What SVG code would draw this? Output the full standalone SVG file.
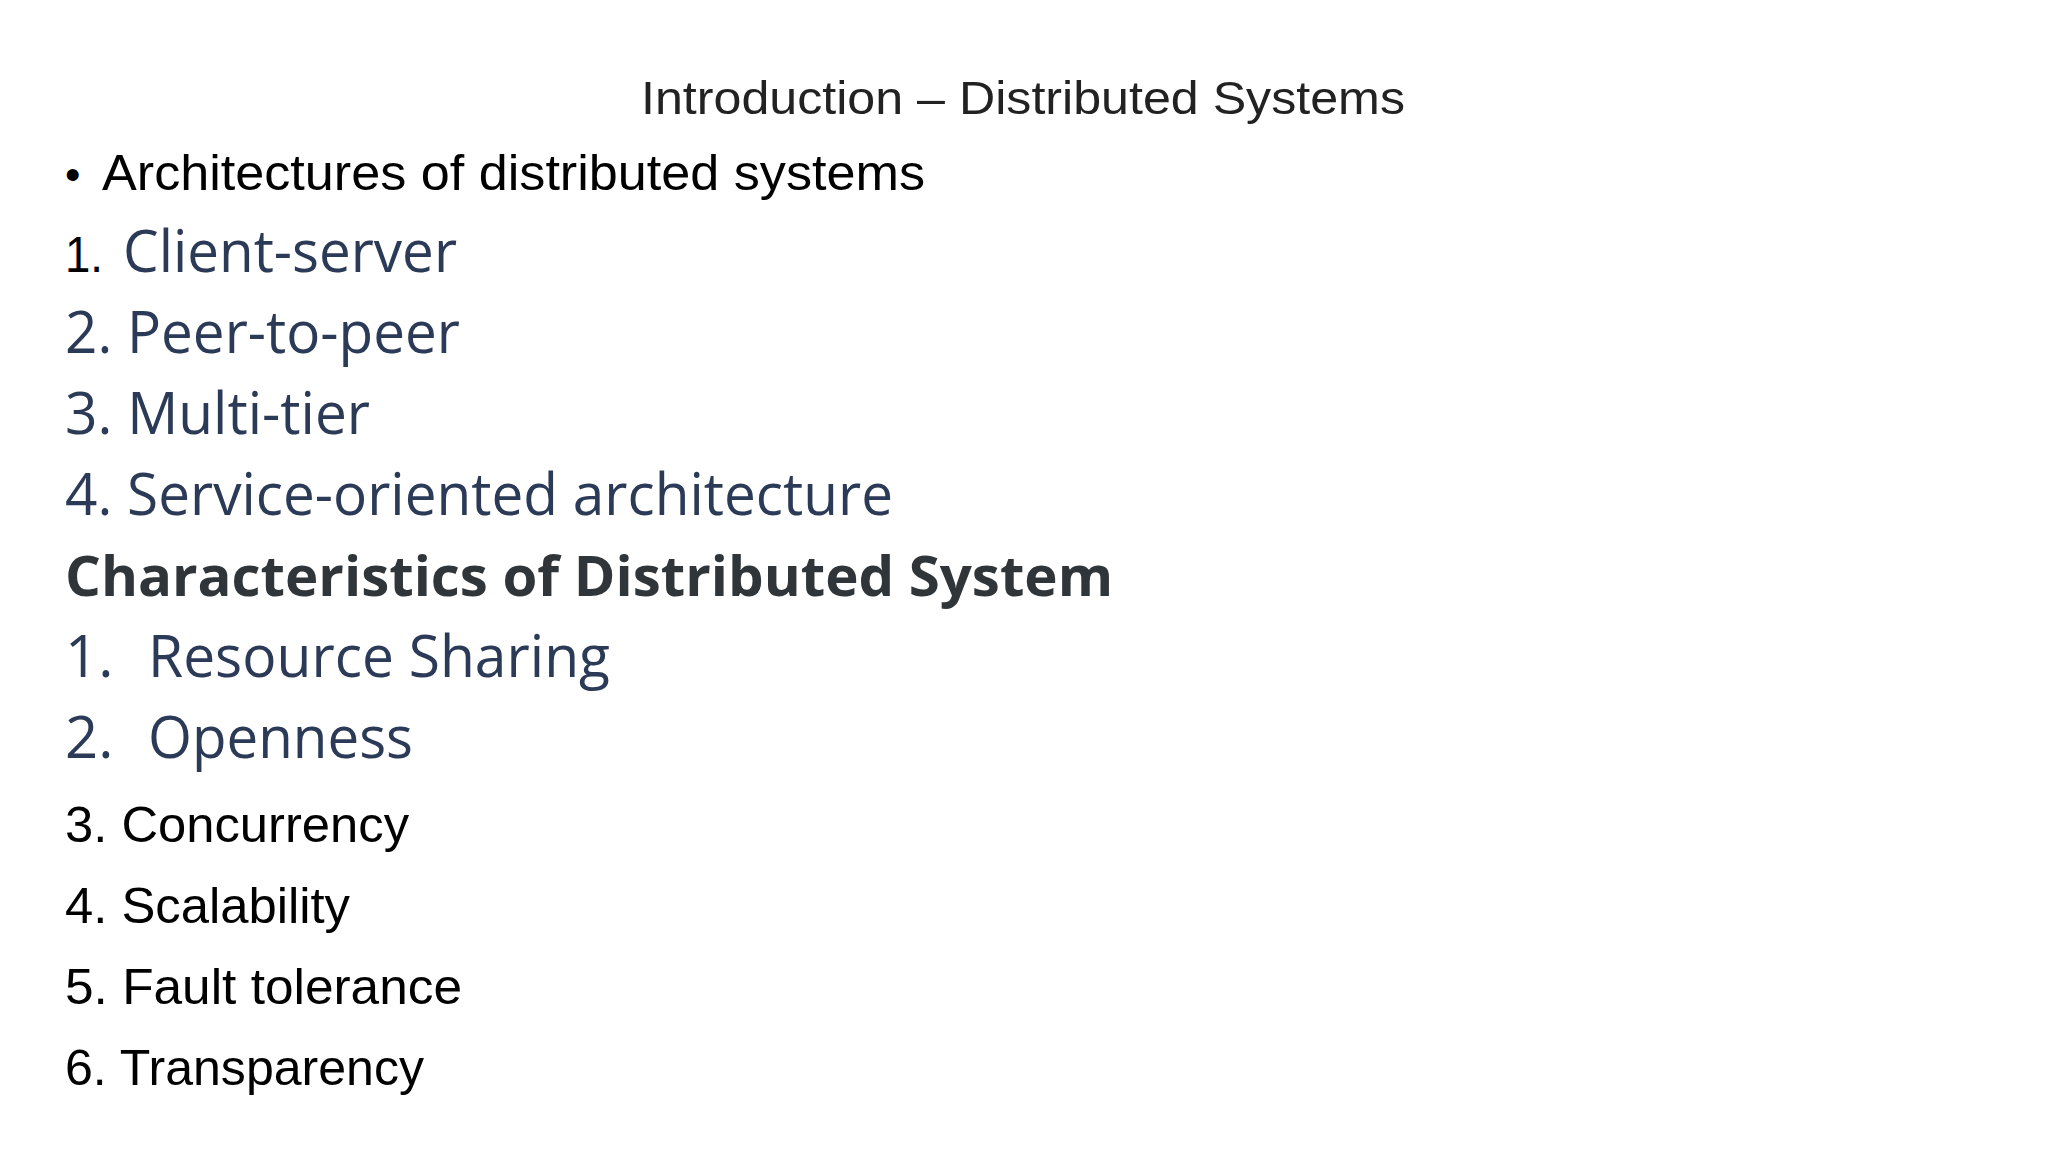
<svg xmlns="http://www.w3.org/2000/svg" width="2048" height="1152" viewBox="0 0 2048 1152">
<style>
.t{font-family:"Liberation Sans",sans-serif;fill:#000}
.b{font-family:"Open Sans","Noto Sans",sans-serif;fill:#2b3a56}
.h{font-family:"Open Sans","Noto Sans",sans-serif;font-weight:bold;fill:#2f3538}
</style>
<rect width="2048" height="1152" fill="#fff"/>
<g id="title"><text class="t" x="641" y="114" font-size="46" textLength="764" lengthAdjust="spacingAndGlyphs" style="fill:#222">Introduction – Distributed Systems</text></g>
<g id="arch">
<text class="t" x="65" y="190" font-size="44">•</text>
<text class="t" x="102" y="190" font-size="50" textLength="823" lengthAdjust="spacingAndGlyphs">Architectures of distributed systems</text>
<text class="t" x="65" y="272" font-size="50" textLength="38" lengthAdjust="spacingAndGlyphs">1.</text>
<text class="b" x="123" y="272" font-size="58" textLength="334" lengthAdjust="spacingAndGlyphs">Client-server</text>
<text class="b" x="65" y="353" font-size="58" textLength="395" lengthAdjust="spacingAndGlyphs">2. Peer-to-peer</text>
<text class="b" x="65" y="434" font-size="58" textLength="305" lengthAdjust="spacingAndGlyphs">3. Multi-tier</text>
<text class="b" x="65" y="515" font-size="58" textLength="828" lengthAdjust="spacingAndGlyphs">4. Service-oriented architecture</text>
</g>
<g id="chars">
<text class="h" x="65" y="596" font-size="56" textLength="1048" lengthAdjust="spacingAndGlyphs">Characteristics of Distributed System</text>
<text class="b" x="65" y="677" font-size="58">1.</text>
<text class="b" x="148" y="677" font-size="58" textLength="462" lengthAdjust="spacingAndGlyphs">Resource Sharing</text>
<text class="b" x="65" y="758" font-size="58">2.</text>
<text class="b" x="148" y="758" font-size="58" textLength="265" lengthAdjust="spacingAndGlyphs">Openness</text>
<text class="t" x="65" y="842" font-size="50" textLength="344" lengthAdjust="spacingAndGlyphs">3. Concurrency</text>
<text class="t" x="65" y="923" font-size="50" textLength="285" lengthAdjust="spacingAndGlyphs">4. Scalability</text>
<text class="t" x="65" y="1004" font-size="50" textLength="397" lengthAdjust="spacingAndGlyphs">5. Fault tolerance</text>
<text class="t" x="65" y="1085" font-size="50" textLength="359" lengthAdjust="spacingAndGlyphs">6. Transparency</text>
</g>
</svg>
